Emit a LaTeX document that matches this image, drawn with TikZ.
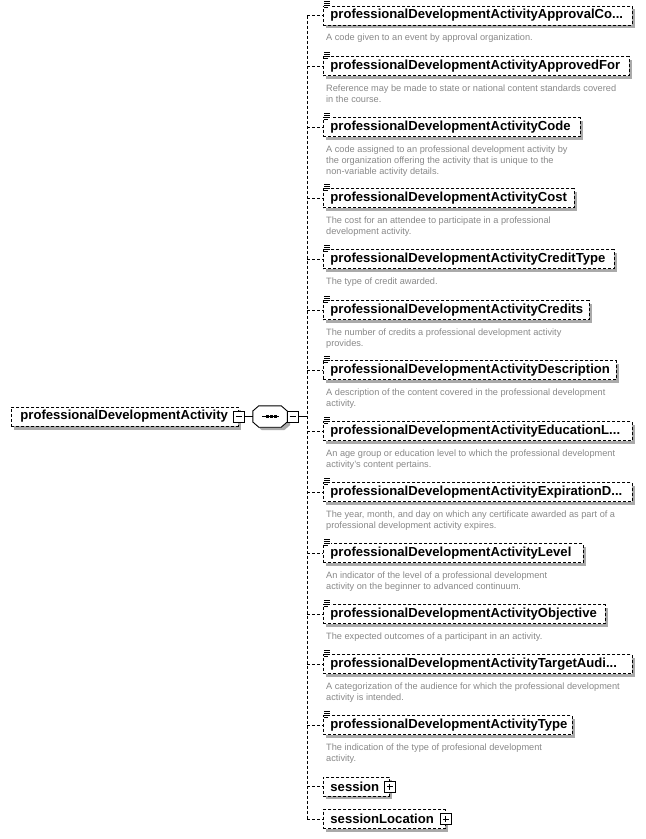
\documentclass[tikz,border=0pt]{standalone}
\usepackage{fontspec}
\setmainfont{Liberation Sans}
\usetikzlibrary{calc,backgrounds}
\definecolor{shgray}{RGB}{170,170,170}
\definecolor{descgray}{RGB}{136,136,136}
\begin{document}
\begin{tikzpicture}[x=1pt,y=-1pt,
  elem/.style={draw, dash pattern=on 3pt off 2pt, line width=0.9pt, fill=white,
    anchor=west, minimum height=19pt, inner xsep=7pt, inner ysep=2pt, align=left,
    font=\bfseries\fontsize{13.1}{14}\selectfont},
  desc/.style={anchor=north west, font=\fontsize{9.2}{11}\selectfont, text=descgray,
    align=left, inner sep=0pt},
  conn/.style={dash pattern=on 3pt off 2pt, line width=0.9pt},
  solidconn/.style={line width=0.9pt},
  shadowfill/.style={fill=shgray, draw=none},
  expander/.style={draw, solid, line width=0.9pt, fill=white, minimum size=11pt,
    inner sep=0pt, anchor=center},
  minusbox/.style={expander, path picture={\draw[line width=0.9pt]
    ([xshift=-3pt]path picture bounding box.center) -- ([xshift=3pt]path picture bounding box.center);}},
  plusbox/.style={expander, path picture={\draw[line width=0.9pt]
    ([xshift=-3pt]path picture bounding box.center) -- ([xshift=3pt]path picture bounding box.center)
    ([yshift=-3pt]path picture bounding box.center) -- ([yshift=3pt]path picture bounding box.center);}},
  docicon/.pic={\fill[white] (0.5,-5) rectangle (7.5,3);
    \draw[line width=0.8pt] (1,-4)--(7,-4) (1,-2)--(7,-2) (1,0)--(7,0) (1,2)--(5,2);}
]
\useasboundingbox (0,0) rectangle (646,839);

% shadows of the element boxes (drawn first, boxes are filled white on top)
\fill[shadowfill] (14,410) rectangle (241,429.5);
\foreach \yy/\rr in {15.5/632, 66/629, 127/580, 198/574, 259/614, 310/589, 370/616, 431/632,
  492/632, 553/583, 614/605, 664/632, 725/572, 786.5/389, 819/445}{
  \fill[shadowfill] (326,\yy-6.5) rectangle (\rr+3,\yy+12.5);
}

% root
\node[elem, inner xsep=9pt, text width=209pt] (root) at (11,416.5) {professionalDevelopmentActivity};
\node[minusbox] (rminus) at (root.east) {};

% sequence compositor
\node[minimum width=34pt, minimum height=21pt, inner sep=0pt] (seq) at (270,416.5) {};
\fill[shadowfill] ($(seq.north west)+(9,3)$) -- ($(seq.north east)+(-3,3)$) -- ($(seq.east)+(3,-2.5)$)
  -- ($(seq.east)+(3,8.5)$) -- ($(seq.south east)+(-3,3)$) -- ($(seq.south west)+(9,3)$)
  -- ($(seq.west)+(3,8.5)$) -- ($(seq.west)+(3,-2.5)$) -- cycle;
\draw[line width=0.9pt, fill=white] ($(seq.north west)+(6,0)$) -- ($(seq.north east)+(-6,0)$) -- ($(seq.east)+(0,-5.5)$)
  -- ($(seq.east)+(0,5.5)$) -- ($(seq.south east)+(-6,0)$) -- ($(seq.south west)+(6,0)$)
  -- ($(seq.west)+(0,5.5)$) -- ($(seq.west)+(0,-5.5)$) -- cycle;
\draw[line width=0.9pt] ($(seq.center)+(-8,0)$) -- ($(seq.center)+(9,0)$);
\fill ($(seq.center)+(-4.5,-1.5)$) rectangle ++(3,3);
\fill ($(seq.center)+(-0.5,-1.5)$) rectangle ++(3,3);
\fill ($(seq.center)+(3.5,-1.5)$) rectangle ++(3,3);
\node[minusbox] (sminus) at ($(seq.east)+(5.5,0)$) {};
\coordinate (spine) at (307,416.5);

\draw[solidconn] (rminus.east) -- (seq.west);
\draw[solidconn] (sminus.east) -- (spine);

% children
\node[elem, text width=295pt] (c1) at (323,15.5) {professionalDevelopmentActivityApprovalCo...};
\node[desc] (d1) at ($(c1.south west)+(3,8.5)$) {A code given to an event by approval organization.};

\node[elem, text width=292pt] (c2) at (323,66) {professionalDevelopmentActivityApprovedFor};
\node[desc] (d2) at ($(c2.south west)+(3,8.5)$) {Reference may be made to state or national content standards covered\\in the course.};

\node[elem, text width=243pt] (c3) at (323,127) {professionalDevelopmentActivityCode};
\node[desc] (d3) at ($(c3.south west)+(3,8.5)$) {A code assigned to an professional development activity by\\the organization offering the activity that is unique to the\\non-variable activity details.};

\node[elem, text width=237pt] (c4) at (323,198) {professionalDevelopmentActivityCost};
\node[desc] (d4) at ($(c4.south west)+(3,8.5)$) {The cost for an attendee to participate in a professional\\development activity.};

\node[elem, text width=277pt] (c5) at (323,259) {professionalDevelopmentActivityCreditType};
\node[desc] (d5) at ($(c5.south west)+(3,8.5)$) {The type of credit awarded.};

\node[elem, text width=252pt] (c6) at (323,310) {professionalDevelopmentActivityCredits};
\node[desc] (d6) at ($(c6.south west)+(3,8.5)$) {The number of credits a professional development activity\\provides.};

\node[elem, text width=279pt] (c7) at (323,370) {professionalDevelopmentActivityDescription};
\node[desc] (d7) at ($(c7.south west)+(3,8.5)$) {A description of the content covered in the professional development\\activity.};

\node[elem, text width=295pt] (c8) at (323,431) {professionalDevelopmentActivityEducationL...};
\node[desc] (d8) at ($(c8.south west)+(3,8.5)$) {An age group or education level to which the professional development\\activity's content pertains.};

\node[elem, text width=295pt] (c9) at (323,492) {professionalDevelopmentActivityExpirationD...};
\node[desc] (d9) at ($(c9.south west)+(3,8.5)$) {The year, month, and day on which any certificate awarded as part of a\\professional development activity expires.};

\node[elem, text width=246pt] (c10) at (323,553) {professionalDevelopmentActivityLevel};
\node[desc] (d10) at ($(c10.south west)+(3,8.5)$) {An indicator of the level of a professional development\\activity on the beginner to advanced continuum.};

\node[elem, text width=268pt] (c11) at (323,614) {professionalDevelopmentActivityObjective};
\node[desc] (d11) at ($(c11.south west)+(3,8.5)$) {The expected outcomes of a participant in an activity.};

\node[elem, text width=295pt] (c12) at (323,664) {professionalDevelopmentActivityTargetAudi...};
\node[desc] (d12) at ($(c12.south west)+(3,8.5)$) {A categorization of the audience for which the professional development\\activity is intended.};

\node[elem, text width=235pt] (c13) at (323,725) {professionalDevelopmentActivityType};
\node[desc] (d13) at ($(c13.south west)+(3,8.5)$) {The indication of the type of profesional development\\activity.};

\node[elem, text width=52pt] (c14) at (323,786.5) {session};
\node[plusbox] (p14) at (c14.east) {};

\node[elem, text width=108pt] (c15) at (323,819) {sessionLocation};
\node[plusbox] (p15) at (c15.east) {};

% icons
\foreach \n in {c1,c2,c3,c4,c5,c6,c7,c8,c9,c10,c11,c12,c13}{
  \pic at (\n.north west) {docicon};
}

% spine
\draw[conn] (spine |- c1.west) -- (spine |- c15.west);
\foreach \n in {c1,c2,c3,c4,c5,c6,c7,c8,c9,c10,c11,c12,c13,c14,c15}{
  \draw[conn] (spine |- \n.west) -- (\n.west);
}
\end{tikzpicture}
\end{document}
